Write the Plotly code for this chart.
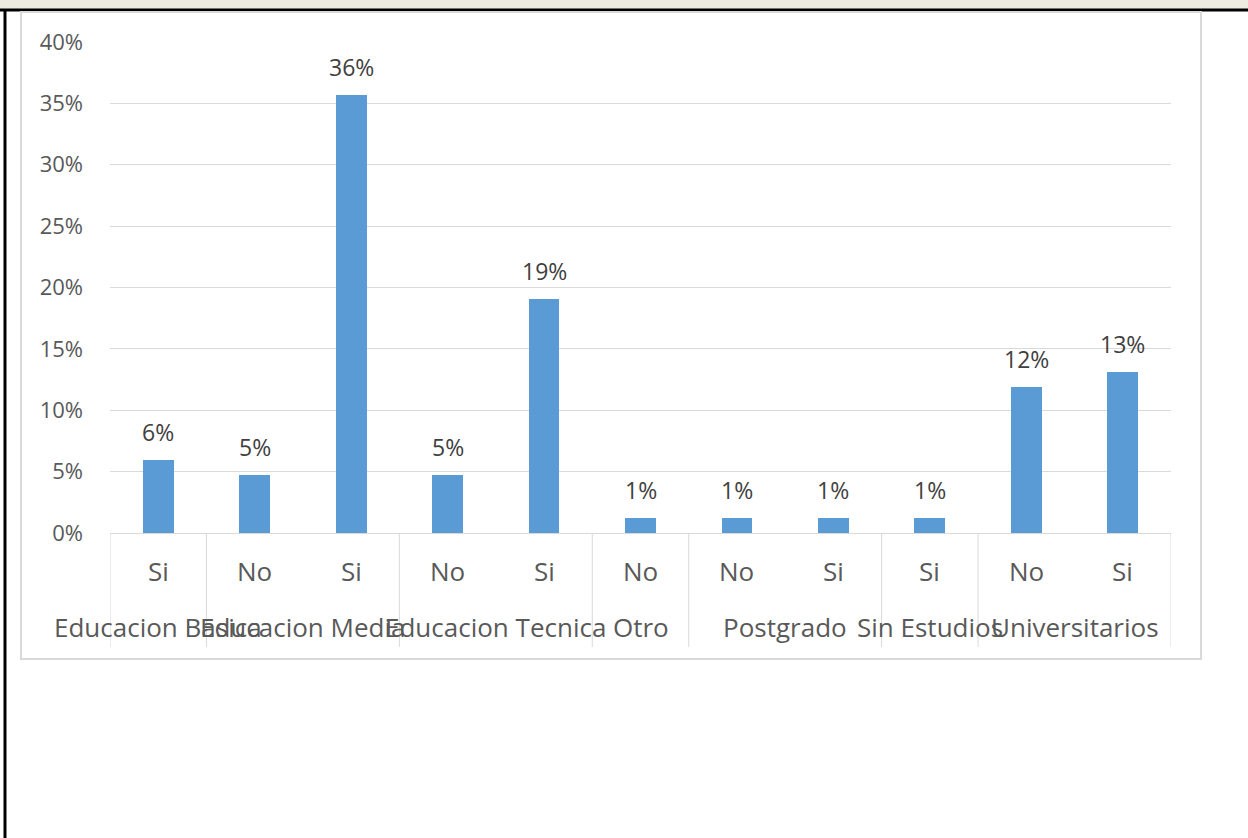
import plotly.graph_objects as go

# ---- data ----
groups = ["Educacion Basica", "Educacion Media", "Educacion Tecnica", "Otro",
          "Postgrado", "Sin Estudios", "Universitarios"]
group_items = [["Si"], ["No", "Si"], ["No", "Si"], ["No"], ["No", "Si"], ["Si"], ["No", "Si"]]
values = [0.0595, 0.0476, 0.357, 0.0476, 0.1905, 0.0119, 0.0119, 0.0119, 0.0119, 0.119, 0.131]
value_labels = ["6%", "5%", "36%", "5%", "19%", "1%", "1%", "1%", "1%", "12%", "13%"]
y_ticks = [0, 0.05, 0.10, 0.15, 0.20, 0.25, 0.30, 0.35, 0.40]

W, H = 1248, 838
FONT = "Open Sans"
GRAY = "#D9D9D9"
TXT = "#595959"


def px_x(p):
    return p / W


def px_y(p):
    return 1 - p / H


items = [it for g in group_items for it in g]
n = len(items)
xpos = [i + 0.5 for i in range(n)]

fig = go.Figure()
fig.add_trace(go.Bar(x=xpos, y=values, width=0.32, marker_color="#5B9BD5",
                     marker_line_width=0, hoverinfo="skip"))

annotations = []
# data labels
for x, v, lab in zip(xpos, values, value_labels):
    annotations.append(dict(x=x, y=v, xref="x", yref="y", text=lab, showarrow=False,
                            yanchor="bottom", yshift=10,
                            font=dict(family=FONT, size=23, color="#404040")))
# category labels
for x, it in zip(xpos, items):
    annotations.append(dict(x=x, y=px_y(571), xref="x", yref="paper", text=it,
                            showarrow=False, yanchor="middle",
                            font=dict(family=FONT, size=26, color=TXT)))
# group labels and dividers
shapes = []
start = 0
bounds = [0]
for g, its in zip(groups, group_items):
    center = start + len(its) / 2
    annotations.append(dict(x=center, y=px_y(627), xref="x", yref="paper", text=g,
                            showarrow=False, yanchor="middle",
                            font=dict(family=FONT, size=26, color=TXT)))
    start += len(its)
    bounds.append(start)
for b in bounds:
    shapes.append(dict(type="line", xref="x", yref="paper", x0=b, x1=b,
                       y0=px_y(533), y1=px_y(647), line=dict(color=GRAY, width=1)))

# frame decorations
shapes.append(dict(type="rect", xref="paper", yref="paper", x0=0, x1=1,
                   y0=px_y(9.5), y1=1, fillcolor="#EEEBE0", line_width=0, layer="below"))
shapes.append(dict(type="line", xref="paper", yref="paper", x0=0, x1=1,
                   y0=px_y(10), y1=px_y(10), line=dict(color="black", width=3)))
shapes.append(dict(type="line", xref="paper", yref="paper", x0=px_x(5), x1=px_x(5),
                   y0=px_y(10), y1=0, line=dict(color="black", width=3)))
shapes.append(dict(type="rect", xref="paper", yref="paper", x0=px_x(21), x1=px_x(1201),
                   y0=px_y(659), y1=px_y(12), line=dict(color=GRAY, width=2)))

fig.update_layout(
    template="none",
    width=W, height=H, margin=dict(l=0, r=0, t=0, b=0, pad=0, autoexpand=False),
    paper_bgcolor="white", plot_bgcolor="white", showlegend=False,
    annotations=annotations, shapes=shapes,
    xaxis=dict(domain=[px_x(110), px_x(1171)], range=[0, n], showticklabels=False,
               showgrid=False, zeroline=False, showline=True, linecolor=GRAY, linewidth=1,
               ticks="", fixedrange=True, automargin=False),
    yaxis=dict(domain=[px_y(533), px_y(42)], range=[0, 0.40], tickvals=y_ticks,
               tickformat=".0%", showgrid=True, gridcolor=GRAY, gridwidth=1,
               zeroline=False, showline=False, ticks="", ticklabelstandoff=26,
               tickfont=dict(family=FONT, size=22, color=TXT), fixedrange=True,
               automargin=False),
    bargap=0,
)

fig.write_html("out.html", config={"displayModeBar": False},
               post_script="document.body.style.margin='0';")
